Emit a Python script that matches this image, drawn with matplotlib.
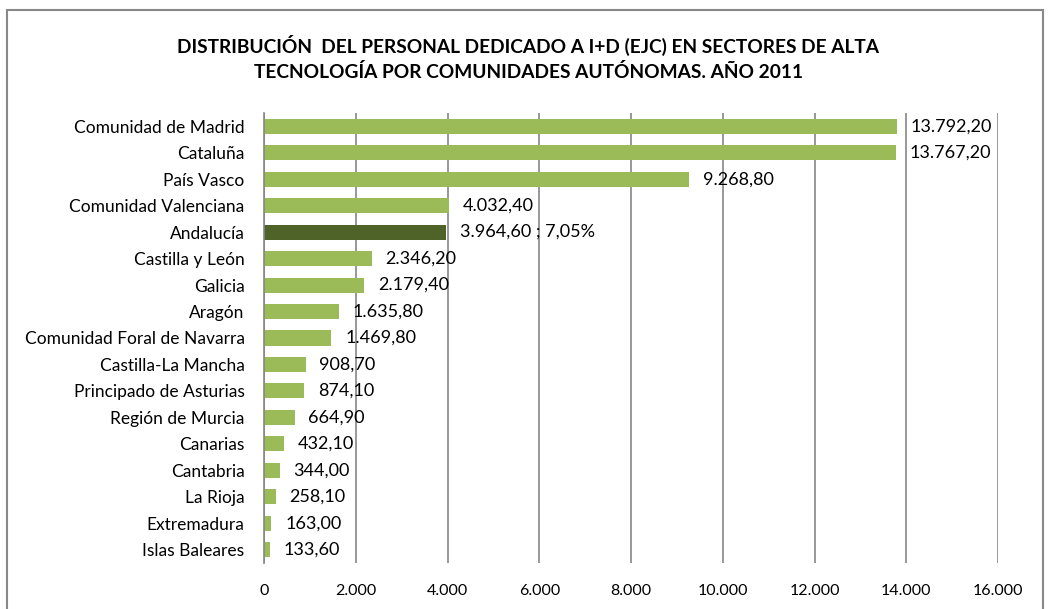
import matplotlib.pyplot as plt
from matplotlib.patches import Rectangle
from matplotlib.ticker import FuncFormatter

regiones = ['Comunidad de Madrid', 'Cataluña', 'País Vasco', 'Comunidad Valenciana',
            'Andalucía', 'Castilla y León', 'Galicia', 'Aragón',
            'Comunidad Foral de Navarra', 'Castilla-La Mancha', 'Principado de Asturias',
            'Región de Murcia', 'Canarias', 'Cantabria', 'La Rioja', 'Extremadura',
            'Islas Baleares']
personal = [13792.2, 13767.2, 9268.8, 4032.4, 3964.6, 2346.2, 2179.4, 1635.8,
            1469.8, 908.7, 874.1, 664.9, 432.1, 344.0, 258.1, 163.0, 133.6]
destacado = 'Andalucía'
pct_destacado = '7,05%'
ticks = [0, 2000, 4000, 6000, 8000, 10000, 12000, 14000, 16000]

plt.rcParams['font.family'] = ['Lato', 'DejaVu Sans']


def es_num(v, dec=2):
    s = f'{v:,.{dec}f}'
    return s.replace(',', 'X').replace('.', ',').replace('X', '.')


fig = plt.figure(figsize=(10.5, 6.09), dpi=100)
fig.patches.append(Rectangle((7 / 1050, -0.1), 1036 / 1050, 1.1 - 10 / 609,
                             transform=fig.transFigure, fill=False,
                             edgecolor='#888888', linewidth=1.5))
ax = fig.add_axes([264 / 1050, 1 - 563 / 609, (998 - 264) / 1050, (563 - 113) / 609])

y = list(range(len(regiones)))
colores = ['#4F6228' if r == destacado else '#9BBB59' for r in regiones]
ax.barh(y, personal, height=0.57, color=colores, zorder=3)
ax.set_ylim(len(regiones) - 0.5, -0.5)
ax.set_xlim(0, 16000)
ax.set_yticks(y)
ax.set_yticklabels(regiones, fontsize=12.5)
ax.set_xticks(ticks)
ax.xaxis.set_major_formatter(FuncFormatter(lambda v, p: es_num(v, 0)))
ax.tick_params(axis='x', length=0, labelsize=11.5, pad=15)
ax.tick_params(axis='y', length=0, pad=14)
ax.grid(axis='x', color='#868686', linewidth=1.2, zorder=0)
for s in ['top', 'right', 'bottom']:
    ax.spines[s].set_visible(False)
ax.spines['left'].set_color('#868686')
ax.spines['left'].set_linewidth(1.2)
ax.spines['left'].set_zorder(4)

for yi, r, v in zip(y, regiones, personal):
    txt = es_num(v)
    if r == destacado:
        txt = txt + ' ; ' + pct_destacado
    ax.text(v + 300, yi, txt, va='center', ha='left', fontsize=13, zorder=5)

fig.text(0.503, 1 - 45 / 609, 'DISTRIBUCIÓN  DEL PERSONAL DEDICADO A I+D (EJC) EN SECTORES DE ALTA',
         ha='center', va='center', fontsize=13.8, fontweight='bold')
fig.text(0.503, 1 - 72 / 609, 'TECNOLOGÍA POR COMUNIDADES AUTÓNOMAS. AÑO 2011',
         ha='center', va='center', fontsize=13.8, fontweight='bold')

fig.savefig('out.png', dpi=100)
